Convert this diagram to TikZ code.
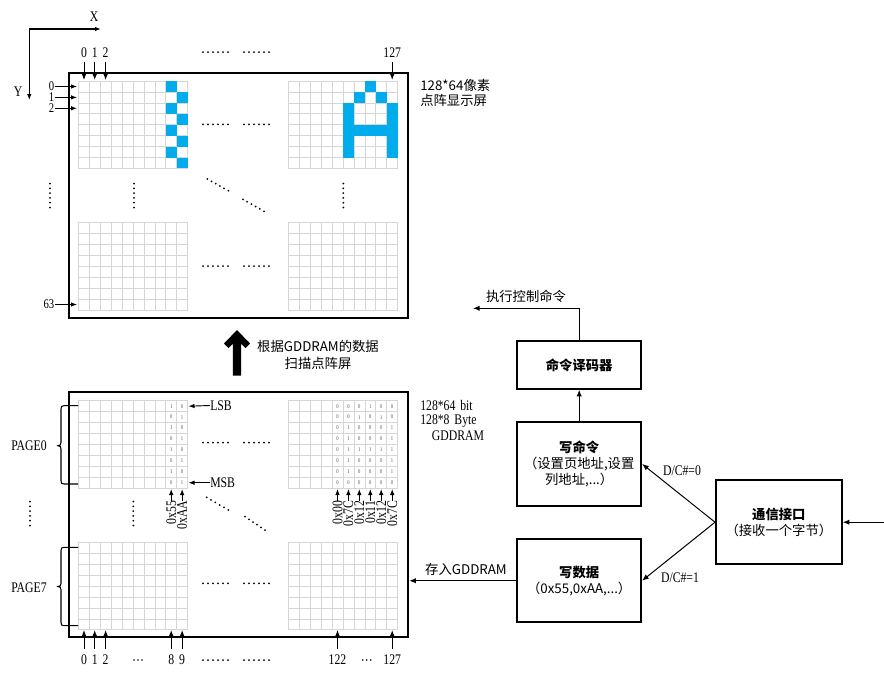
\documentclass[tikz,border=0pt]{standalone}
\usepackage{fontspec}
\setmainfont{Liberation Serif}[FakeStretch=0.8]
\newfontfamily\cjk{Noto Sans CJK SC}
\usetikzlibrary{arrows.meta}
\definecolor{pixblue}{RGB}{0,172,236}
\newcommand\DrawGrid[2]{%
  \foreach \i in {0,...,10} {\draw[gridc] ({#1+\i*10.93},#2) -- ({#1+\i*10.93},{#2+87.44});}
  \foreach \j in {0,...,8} {\draw[gridc] (#1,{#2+\j*10.93}) -- ({#1+109.3},{#2+\j*10.93});}
}
\newcommand\Pix[4]{\fill[pixblue] ({#1+#3*10.93},{#2+#4*10.93}) rectangle ++(10.93,10.93);}
\newcommand\Bit[5]{\node[bit] at ({#1+(#3+0.5)*10.93},{#2+(#4+0.5)*10.93}) {#5};}
\newcommand\DotsH[2]{\foreach \k in {0,...,5} {\fill ({#1+\k*5},#2) circle[radius=0.75pt];}}
\newcommand\DotsT[2]{\foreach \k in {0,...,2} {\fill ({#1+\k*4},#2) circle[radius=0.7pt];}}
\newcommand\DotsV[2]{\foreach \k in {0,...,5} {\fill (#1,{#2+\k*4.8}) circle[radius=0.75pt];}}
\newcommand\DotsD[4]{\foreach \k in {0,...,5} {\fill ({#1+\k*#3/5},{#2+\k*#4/5}) circle[radius=0.75pt];}}
\begin{document}
\begin{tikzpicture}[x=0.75pt,y=-0.75pt, font=\fontsize{11}{13}\selectfont,
  gridc/.style={draw=black!16, line width=0.45pt},
  frame/.style={draw, line width=1.9pt, inner sep=0pt},
  blk/.style={draw, line width=1.5pt, align=center, inner sep=0pt, font=\cjk\fontsize{10}{12.2}\selectfont},
  arr/.style={-{Latex[length=4.5pt,width=3.4pt]}, line width=0.7pt},
  con/.style={-{Latex[length=5pt,width=4pt]}, line width=0.75pt},
  bit/.style={font=\fontsize{4.3}{4.5}\selectfont, text=black!70, inner sep=0pt},
  lbl/.style={inner sep=0pt},
  rlbl/.style={inner sep=0pt, anchor=east, font=\fontsize{10}{10}\selectfont},
  clbl/.style={inner sep=0pt, font=\cjk\fontsize{10}{12}\selectfont},
]
\useasboundingbox (0,0) rectangle (884,683);

% ---------- axes ----------
\coordinate (org) at (29.3,29);
\coordinate (xend) at (101,29);
\coordinate (yend) at (29.3,100);
\draw[arr, line width=0.9pt] (org) -- (xend);
\draw[arr, line width=0.9pt] (org) -- (yend);
\node[lbl] (xl) at (94,17) {X};
\node[lbl] (yl) at (18,92) {Y};

% ---------- top screen ----------
\node[frame, minimum width=254.25pt, minimum height=183.75pt] (scr) at (238.5,195.5) {};
\DrawGrid{78.3}{81}
\DrawGrid{288.3}{81}
\DrawGrid{78.3}{222.7}
\DrawGrid{288.3}{222.7}
\foreach \r in {0,2,4,6} {\Pix{78.3}{81}{8}{\r}}
\foreach \r in {1,3,5,7} {\Pix{78.3}{81}{9}{\r}}
\Pix{288.3}{81}{7}{0}
\Pix{288.3}{81}{6}{1}\Pix{288.3}{81}{8}{1}
\foreach \r in {2,...,6} {\Pix{288.3}{81}{5}{\r}\Pix{288.3}{81}{9}{\r}}
\Pix{288.3}{81}{6}{4}\Pix{288.3}{81}{7}{4}\Pix{288.3}{81}{8}{4}

% column markers top
\foreach \x/\t/\n in {84/0/ca, 94.7/1/cb, 105.6/2/cc, 392.2/127/cd} {
  \node[lbl] (\n) at (\x,52.5) {\t};
  \coordinate (\n e) at (\x,80);
  \draw[arr] (\x,61.5) -- (\n e);
}
\DotsH{203}{52}\DotsH{244}{52}
% row markers left
\foreach \y/\t/\n in {86.5/0/ra, 97.4/1/rb, 108.3/2/rc, 304.5/63/rd} {
  \node[rlbl] (\n) at (54.5,\y) {\t};
  \coordinate (\n e) at (77,\y);
  \draw[arr] (\n) -- (\n e);
}
\DotsH{203}{124.3}\DotsH{244}{124.3}
\DotsV{50}{183.5}\DotsV{134}{183.5}\DotsV{343.3}{183.5}
\DotsD{207.3}{179}{21}{11.7}\DotsD{243}{199.3}{21}{12}
\DotsH{203}{266}\DotsH{244}{266}
\node[clbl, anchor=west] (scrl1) at (420,85) {128*64像素};
\node[clbl, anchor=west] (scrl2) at (420,100.5) {点阵显示屏};

% ---------- big arrow ----------
\fill (237,330) -- (250,343.5) -- (245.5,348) -- (241.2,343.7) -- (241.2,375.5) -- (232.8,375.5) -- (232.8,343.7) -- (228.5,348) -- (224,343.5) -- cycle;
\node[clbl] (scan1) at (318,346) {根据GDDRAM的数据};
\node[clbl] (scan2) at (318,363) {扫描点阵屏};

% ---------- GDDRAM ----------
\node[frame, minimum width=254.25pt, minimum height=183.75pt] (gdd) at (238.5,514.5) {};
\DrawGrid{78.3}{400.7}
\DrawGrid{288.3}{400.7}
\DrawGrid{78.3}{542.3}
\DrawGrid{288.3}{542.3}
\foreach \r/\a/\b in {0/1/0,1/0/1,2/1/0,3/0/1,4/1/0,5/0/1,6/1/0,7/0/1} {
  \Bit{78.3}{400.7}{8}{\r}{\a}\Bit{78.3}{400.7}{9}{\r}{\b}
}
\foreach \r/\a/\b/\c/\d/\e/\g in {0/0/0/0/1/0/0,1/0/0/1/0/1/0,2/0/1/0/0/0/1,3/0/1/0/0/0/1,4/0/1/1/1/1/1,5/0/1/0/0/0/1,6/0/1/0/0/0/1,7/0/0/0/0/0/0} {
  \Bit{288.3}{400.7}{4}{\r}{\a}\Bit{288.3}{400.7}{5}{\r}{\b}\Bit{288.3}{400.7}{6}{\r}{\c}
  \Bit{288.3}{400.7}{7}{\r}{\d}\Bit{288.3}{400.7}{8}{\r}{\e}\Bit{288.3}{400.7}{9}{\r}{\g}
}
% LSB / MSB
\node[lbl, anchor=west] (lsb) at (210,405.5) {LSB};
\node[lbl, anchor=west] (msb) at (210,482.7) {MSB};
\coordinate (lsbe) at (188.5,406.2);
\coordinate (msbe) at (188.5,482.7);
\draw[arr] (lsb.west) -- (lsbe);
\draw[arr] (msb.west) -- (msbe);
% byte labels
\foreach \x/\t/\n in {171.2/0x55/ba, 182.1/0xAA/bb, 337.5/0x00/bc, 348.4/0x7C/bd, 359.3/0x12/be, 370.3/0x11/bf, 381.2/0x12/bg, 392.2/0x7C/bh} {
  \node[lbl, rotate=90, anchor=east] (\n) at (\x,500.5) {\t};
  \coordinate (\n e) at (\x,489);
  \draw[arr] (\n.east) -- (\n e);
}
\DotsH{203}{442.7}\DotsH{244}{442.7}
\DotsV{30}{501.5}\DotsV{133.3}{501.5}
\DotsD{206.7}{497.3}{21.6}{12.7}\DotsD{245}{516.7}{20}{13.3}
\DotsH{203}{583.3}\DotsH{244}{583.3}
% braces
\draw[line width=0.8pt] (78,405.7) -- (64,405.7) .. controls (61.6,405.7) and (61,406.5) .. (61,409) -- (61,442.3) .. controls (61,444.6) and (60.2,445.7) .. (58,445.7) .. controls (60.2,445.7) and (61,446.8) .. (61,449.1) -- (61,480.7) .. controls (61,483.3) and (61.6,484) .. (64,484) -- (78,484);
\draw[line width=0.8pt] (78,547.3) -- (64,547.3) .. controls (61.6,547.3) and (61,548.1) .. (61,550.6) -- (61,583.3) .. controls (61,585.6) and (60.2,586.5) .. (58,586.5) .. controls (60.2,586.5) and (61,587.6) .. (61,589.9) -- (61,622.3) .. controls (61,624.9) and (61.6,625.7) .. (64,625.7) -- (78,625.7);
\node[lbl] (p0) at (29,446) {PAGE0};
\node[lbl] (p7) at (29,588) {PAGE7};
% bottom column markers
\foreach \x/\t/\n in {84/0/da, 94.7/1/db, 105.6/2/dc, 171.2/8/dd, 182.1/9/de, 337.5/122/df, 392.2/127/dg} {
  \node[lbl] (\n) at (\x,659.5) {\t};
  \coordinate (\n e) at (\x,630);
  \draw[arr] (\x,648.5) -- (\n e);
}
\DotsT{134}{660}\DotsT{362.7}{660}
\DotsH{203}{660}\DotsH{244}{660}
\node[lbl, anchor=west] (g1) at (420,405.5) {128*64\,\,bit};
\node[lbl, anchor=west] (g2) at (420,421) {128*8\,\,Byte};
\node[lbl] (g3) at (458,435.5) {GDDRAM};

% ---------- right blocks ----------
\node[blk, minimum width=92.8pt, minimum height=35.8pt] (dec) at (579.2,364.9) {\bfseries 命令译码器};
\node[blk, minimum width=92.8pt, minimum height=63.2pt] (wcmd) at (579.2,463.9) {{\bfseries 写命令}\\（设置页地址,设置\\列地址,...）};
\node[blk, minimum width=92.8pt, minimum height=62pt] (wdat) at (579.2,580.7) {{\bfseries 写数据}\\（0x55,0xAA,...）};
\node[blk, minimum width=94.3pt, minimum height=63.2pt] (comm) at (778.9,522.2) {{\bfseries 通信接口}\\（接收一个字节）};

\coordinate (exec) at (473,308.3);
\draw[con] (dec.north) |- (exec);
\node[clbl] (execl) at (526,296.7) {执行控制命令};
\draw[con] (wcmd.north) -- (dec.south);
\draw[con] (comm.west) -- (wcmd.east);
\draw[con] (comm.west) -- (wdat.east);
\node[lbl] (dc0) at (682,471) {D/C\#=0};
\node[lbl] (dc1) at (680,577.3) {D/C\#=1};
\coordinate (inp) at (884,522.2);
\draw[con] (inp) -- (comm.east);
\draw[con] (wdat.west) -- (wdat.west -| gdd.east);
\node[clbl] (store) at (466,569) {存入GDDRAM};
\end{tikzpicture}
\end{document}
